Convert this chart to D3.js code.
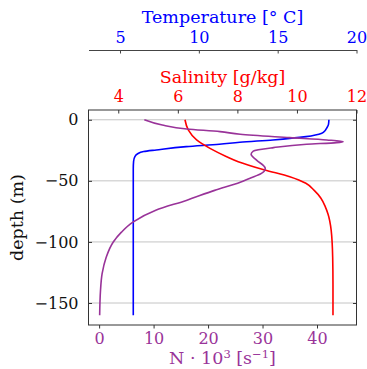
<!DOCTYPE html>
<html>
<head>
<meta charset="utf-8">
<script src="https://cdnjs.cloudflare.com/ajax/libs/d3/7.8.5/d3.min.js"></script>
<style>
    body { margin: 0; background: #fff; }
    text { font-family: "DejaVu Serif", serif; }
</style>
</head>
<body>
<script>
// temperature profile (deg C) against depth (m)
var tempDepth = [0, -4, -7, -9, -11, -13.8, -16.5, -18.4, -20.1, -22, -24.7, -26, -28, -30, -34, -40, -60, -100, -160];
var tempValue = [18.25, 18.22, 18.1, 18.0, 17.8, 16.8, 14.7, 12.6, 11.3, 9.2, 7.3, 6.5, 6.1, 5.95, 5.86, 5.84, 5.84, 5.84, 5.84];

// salinity profile (g/kg)
var salDepth = [0, -8.3, -16.5, -23.4, -30.2, -34.3, -41.1, -46.6, -52, -57.8, -64, -71.1, -76.9, -90.6, -112.5, -135, -160];
var salValue = [6.24, 6.35, 6.63, 7.08, 7.64, 8.03, 8.92, 9.76, 10.3, 10.58, 10.8, 10.95, 11.04, 11.15, 11.2, 11.21, 11.21];

// buoyancy frequency N * 10^3 (1/s)
var nDepth = [0, -4.3, -7.5, -9.7, -11.9, -14.6, -16.5, -17.9, -18.7, -20, -22.8, -25.6, -28.3, -33, -39.8, -43.9, -48, -51.2, -57.8, -66, -74, -83.8, -92, -100, -112.5, -126, -140, -160];
var nValue = [8.3, 11.6, 16.1, 22.2, 25.9, 35, 41.8, 44.8, 43.6, 38.1, 32, 28.3, 27.9, 28.9, 30.5, 29.8, 27.6, 25.9, 21.2, 16, 10.4, 6.2, 4.1, 2.6, 1.3, 0.55, 0.25, 0.1];

var depthTicks = [0, -50, -100, -150];
var nTicks = [0, 10, 20, 30, 40];
var salTicks = [4, 6, 8, 10, 12];
var tempTicks = [5, 10, 15, 20];

function drawChart() {
    var width = 367,
        height = 369;
    var pl = 88.5, pr = 356.5, pt = 110, pb = 325;
    var purple = "#993399";

    var svg = d3.select("body").append("svg")
        .attr("width", width)
        .attr("height", height);

    var y = d3.scaleLinear().domain([-168, 8]).range([pb, pt]);
    var xN = d3.scaleLinear().domain([-1.95, 47.25]).range([pl, pr]);
    var xS = d3.scaleLinear().domain([3, 12]).range([pl, pr]);
    var xT = d3.scaleLinear().domain([3, 20]).range([pl, pr]);

    // horizontal grid
    svg.selectAll(".grid").data(depthTicks)
        .enter().append("line")
        .attr("class", "grid")
        .attr("x1", pl).attr("x2", pr)
        .attr("y1", function(d) { return y(d); })
        .attr("y2", function(d) { return y(d); })
        .attr("stroke", "#c4c4c4")
        .attr("stroke-width", 1);

    function drawProfile(depths, values, x, colour) {
        var pts = depths.map(function(d, i) { return [values[i], d]; });
        var line = d3.line()
            .x(function(p) { return x(p[0]); })
            .y(function(p) { return y(p[1]); })
            .curve(d3.curveMonotoneY);
        svg.append("path")
            .datum(pts)
            .attr("d", line)
            .attr("fill", "none")
            .attr("stroke", colour)
            .attr("stroke-width", 1.6);
    }

    drawProfile(tempDepth, tempValue, xT, "#0000ff");
    drawProfile(salDepth, salValue, xS, "#ff0000");
    drawProfile(nDepth, nValue, xN, purple);

    // frame
    svg.append("rect")
        .attr("x", pl).attr("y", pt)
        .attr("width", pr - pl).attr("height", pb - pt)
        .attr("fill", "none")
        .attr("stroke", "#333")
        .attr("stroke-width", 1);

    // left axis (ticks inward) and right ticks
    var yAxis = d3.axisLeft(y).tickValues(depthTicks).tickSizeInner(-3.5).tickSizeOuter(0).tickPadding(10)
        .tickFormat(function(d) { return d < 0 ? "\u2212" + (-d) : d; });
    var gy = svg.append("g").attr("transform", "translate(" + pl + ",0)").call(yAxis);
    gy.select(".domain").remove();
    gy.selectAll("line").attr("stroke", "#333");
    gy.selectAll("text").attr("font-size", 16).attr("fill", "#111");

    var gyr = svg.append("g").attr("transform", "translate(" + pr + ",0)")
        .call(d3.axisRight(y).tickValues(depthTicks).tickSizeInner(-3.5).tickSizeOuter(0).tickFormat(""));
    gyr.select(".domain").remove();
    gyr.selectAll("line").attr("stroke", "#333");

    // bottom N axis
    var gx = svg.append("g").attr("transform", "translate(0," + pb + ")")
        .call(d3.axisBottom(xN).tickValues(nTicks).tickSizeInner(3.5).tickSizeOuter(0).tickPadding(4));
    gx.select(".domain").remove();
    gx.selectAll("line").attr("stroke", "#333");
    gx.selectAll("text").attr("font-size", 16).attr("fill", purple);

    // salinity axis on top of the frame
    var gs = svg.append("g").attr("transform", "translate(0," + pt + ")")
        .call(d3.axisTop(xS).tickValues(salTicks).tickSizeInner(-3.5).tickSizeOuter(0).tickPadding(8));
    gs.select(".domain").remove();
    gs.selectAll("line").attr("stroke", "#333");
    gs.selectAll("text").attr("font-size", 16).attr("fill", "red");

    // temperature axis, offset upward
    var tY = 50;
    var gt = svg.append("g").attr("transform", "translate(0," + tY + ")")
        .call(d3.axisTop(xT).tickValues(tempTicks).tickSizeInner(-3.5).tickSizeOuter(0).tickPadding(7));
    gt.select(".domain").attr("stroke", "#444");
    gt.selectAll("line").attr("stroke", "#444");
    gt.selectAll("text").attr("font-size", 16).attr("fill", "blue");

    // axis titles
    var mid = (pl + pr) / 2;
    svg.append("text")
        .attr("x", mid).attr("y", 23)
        .attr("text-anchor", "middle")
        .attr("font-size", 17.5)
        .attr("fill", "blue")
        .text("Temperature [\u00b0 C]");

    svg.append("text")
        .attr("x", mid).attr("y", 83)
        .attr("text-anchor", "middle")
        .attr("font-size", 17.5)
        .attr("fill", "red")
        .text("Salinity [g/kg]");

    var nl = svg.append("text")
        .attr("x", mid).attr("y", 364)
        .attr("text-anchor", "middle")
        .attr("font-size", 17.5)
        .attr("fill", purple);
    nl.append("tspan").text("N \u00b7 10");
    nl.append("tspan").attr("dy", -6).attr("font-size", 11.5).text("3");
    nl.append("tspan").attr("dy", 6).text(" [s");
    nl.append("tspan").attr("dy", -6).attr("font-size", 11.5).text("\u22121");
    nl.append("tspan").attr("dy", 6).text("]");

    svg.append("text")
        .attr("transform", "translate(23," + ((pt + pb) / 2) + ") rotate(-90)")
        .attr("text-anchor", "middle")
        .attr("font-size", 17.5)
        .attr("fill", "#111")
        .text("depth (m)");
}

drawChart();
</script>
</body>
</html>
